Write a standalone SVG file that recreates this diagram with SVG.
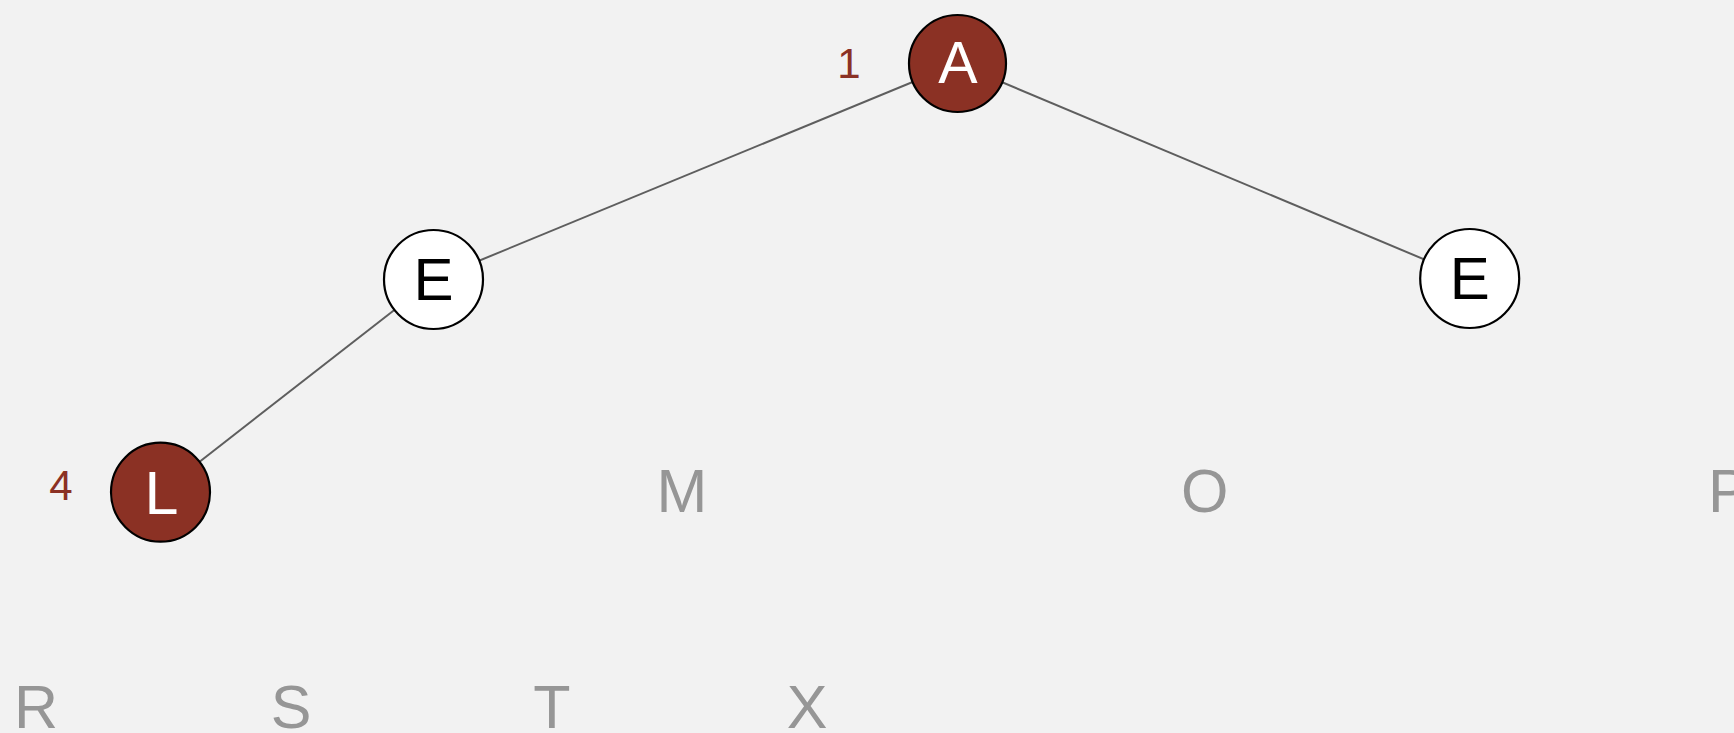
<svg xmlns="http://www.w3.org/2000/svg" width="1734" height="733" viewBox="0 0 1734 733">
<style>
.bg{fill:#f2f2f2}
.edge{stroke:#5e5e5e;stroke-width:2;fill:none}
.red{fill:#8b3124;stroke:#000;stroke-width:2.2}
.white{fill:#fff;stroke:#000;stroke-width:2.2}
.t{font-family:"Liberation Sans",Arial,sans-serif;text-anchor:middle}
.lw{fill:#fff;font-size:59px}
.lb{fill:#000;font-size:60px}
.lg{fill:#969696;font-size:61px}
.idx{fill:#8b3124;font-size:42px}
</style>
<rect class="bg" x="0" y="0" width="1734" height="733"/>
<g id="connectors">
<line class="edge" x1="957.5" y1="63.5" x2="433.5" y2="279.5"/>
<line class="edge" x1="957.5" y1="63.5" x2="1469.7" y2="278.5"/>
<line class="edge" x1="433.5" y1="279.5" x2="160.5" y2="492.2"/>
</g>
<g id="node-A">
<circle class="red" cx="957.5" cy="63.5" r="48.5"/>
<text class="t lw" x="958" y="83.3">A</text>
<text class="t idx" x="849" y="78">1</text>
</g>
<g id="node-E1">
<circle class="white" cx="433.5" cy="279.5" r="49.5"/>
<text class="t lb" x="433.5" y="299.5">E</text>
</g>
<g id="node-E2">
<circle class="white" cx="1469.7" cy="278.5" r="49.5"/>
<text class="t lb" x="1469.7" y="299">E</text>
</g>
<g id="node-L">
<circle class="red" cx="160.5" cy="492.2" r="49.5"/>
<text class="t lw" x="161.5" y="514.3" style="font-size:61px">L</text>
<text class="t idx" x="61" y="500">4</text>
</g>
<g id="node-M"><text class="t lg" x="682" y="512.3">M</text></g>
<g id="node-O"><text class="t lg" x="1204.7" y="512.3">O</text></g>
<g id="node-P"><text class="t lg" x="1708" y="512.3" style="text-anchor:start">P</text></g>
<g id="node-R"><text class="t lg" x="36" y="727.7">R</text></g>
<g id="node-S"><text class="t lg" x="291" y="727.7">S</text></g>
<g id="node-T"><text class="t lg" x="552" y="727.7">T</text></g>
<g id="node-X"><text class="t lg" x="807" y="727.7">X</text></g>
</svg>
